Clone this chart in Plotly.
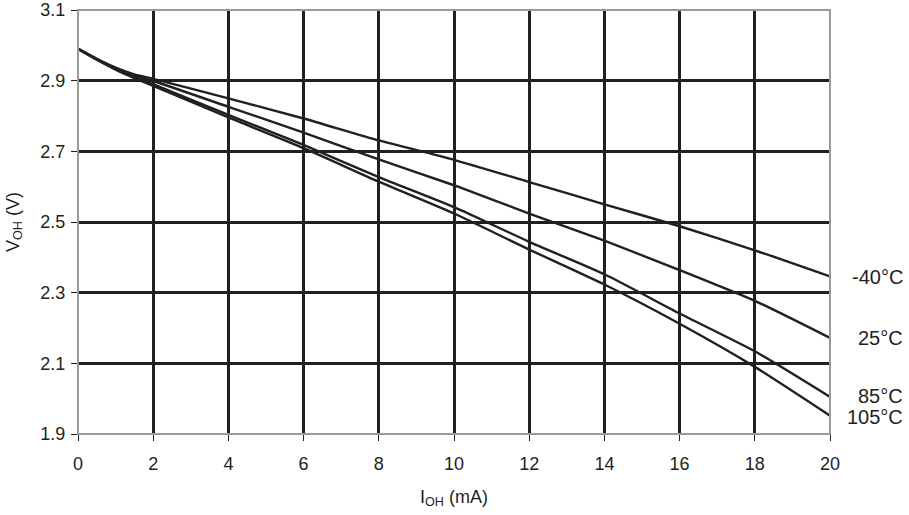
import plotly.graph_objects as go

# Output current (mA)
i_oh = [0, 0.5, 1, 1.5, 2, 4, 6, 8, 10, 12, 14, 16, 18, 20]

# Output high voltage (V) per temperature
v_m40 = [2.99, 2.962, 2.937, 2.918, 2.905, 2.850, 2.793, 2.731, 2.676, 2.613, 2.550, 2.488, 2.420, 2.346]
v_25 = [2.99, 2.961, 2.935, 2.914, 2.899, 2.826, 2.753, 2.677, 2.604, 2.524, 2.447, 2.364, 2.277, 2.172]
v_85 = [2.99, 2.960, 2.933, 2.910, 2.890, 2.803, 2.718, 2.627, 2.542, 2.444, 2.352, 2.241, 2.134, 2.005]
v_105 = [2.99, 2.959, 2.931, 2.907, 2.885, 2.796, 2.709, 2.614, 2.524, 2.422, 2.323, 2.212, 2.090, 1.952]

series = [("-40°C", v_m40), ("25°C", v_25), ("85°C", v_85), ("105°C", v_105)]
label_y = [2.345, 2.173, 2.008, 1.949]

x_ticks = [0, 2, 4, 6, 8, 10, 12, 14, 16, 18, 20]
y_ticks = [1.9, 2.1, 2.3, 2.5, 2.7, 2.9, 3.1]

ink = "#231f20"
frame = "#9a9a9a"
font_family = "Liberation Sans, Arial, sans-serif"

fig = go.Figure()
for name, vals in series:
    fig.add_trace(go.Scatter(
        x=i_oh, y=vals, mode="lines", name=name,
        line=dict(color=ink, width=2.4, shape="spline", smoothing=0.6),
        showlegend=False, hoverinfo="skip",
    ))

for (name, vals), ly in zip(series, label_y):
    fig.add_annotation(
        x=20, y=ly, xref="x", yref="y", text=name, showarrow=False,
        xanchor="right", yanchor="middle", xshift=75,
        font=dict(size=20, color=ink, family=font_family),
    )

# grey plot frame drawn above the black grid
fig.add_shape(type="rect", xref="x domain", yref="y domain", x0=0, x1=1, y0=0, y1=1,
              line=dict(color=frame, width=2), layer="above")

fig.update_layout(
    width=909, height=515,
    margin=dict(l=78, r=79, t=10, b=81, autoexpand=False),
    paper_bgcolor="white", plot_bgcolor="white",
    font=dict(family=font_family, size=18, color=ink),
)
fig.update_xaxes(
    range=[0, 20], tickvals=x_ticks, ticktext=[str(v) for v in x_ticks],
    showgrid=True, gridcolor=ink, gridwidth=3, showline=False,
    ticks="outside", ticklen=6, tickcolor=ink, tickwidth=1,
    tickfont=dict(size=18, color=ink), zeroline=False, automargin=False,
    ticklabelstandoff=7, ticklabeloverflow="allow",
    title=dict(text="I<sub>OH</sub> (mA)", font=dict(size=18, color=ink), standoff=17),
)
fig.update_yaxes(
    range=[1.9, 3.1], tickvals=y_ticks, ticktext=[f"{v:.1f}" for v in y_ticks],
    showgrid=True, gridcolor=ink, gridwidth=3, showline=False,
    ticks="outside", ticklen=6, tickcolor=ink, tickwidth=1,
    tickfont=dict(size=18, color=ink), zeroline=False, automargin=False,
    ticklabelstandoff=2, ticklabeloverflow="allow",
    title=dict(text="V<sub>OH</sub> (V)", font=dict(size=18, color=ink), standoff=16),
)

# remove the page's default 8px body margin so the figure sits at the window's corner
fig.write_html("out.html", config={"displayModeBar": False},
               post_script="document.body.style.margin='0';")
